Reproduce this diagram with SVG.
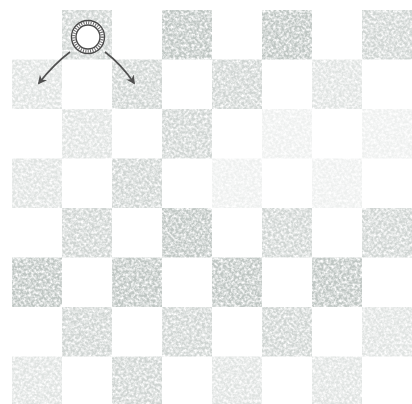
<svg xmlns="http://www.w3.org/2000/svg" width="412" height="404" viewBox="0 0 412 404">
<style>
.sq{fill:#9aa3a0}
.d{fill-opacity:0.56}
.m{fill-opacity:0.42}
.l{fill-opacity:0.28}
.f{fill-opacity:0.15}
.ring{fill:none;stroke:#4a4a4a;stroke-width:1.4}
.hatch{fill:none;stroke:#6a6a6a;stroke-width:3;stroke-dasharray:1 1.4}
.arrow{fill:none;stroke:#505050;stroke-width:1.6}
</style>
<defs>
<filter id="grain" x="0" y="0" width="1" height="1" color-interpolation-filters="sRGB">
<feTurbulence type="fractalNoise" baseFrequency="0.38" numOctaves="2" seed="7" result="n"/>
<feColorMatrix in="n" type="matrix" values="0 0 0 0 0.55  0 0 0 0 0.6  0 0 0 0 0.58  2.2 0 0 0 -0.45" result="spk"/>
<feComposite in="spk" in2="SourceGraphic" operator="in"/>
</filter>
<marker id="ah" viewBox="0 0 10 10" refX="8" refY="5" markerWidth="9" markerHeight="9" orient="auto" markerUnits="userSpaceOnUse">
<path d="M0,0 L10,5 L0,10 L3,5 z" fill="#505050"/>
</marker>
</defs>
<rect width="412" height="404" fill="#ffffff"/>
<g id="board" filter="url(#grain)">
<rect class="sq m" x="62" y="10" width="50" height="49.5"/>
<rect class="sq d" x="162" y="10" width="50" height="49.5"/>
<rect class="sq d" x="262" y="10" width="50" height="49.5"/>
<rect class="sq m" x="362" y="10" width="50" height="49.5"/>
<rect class="sq l" x="12" y="59.5" width="50" height="49.5"/>
<rect class="sq m" x="112" y="59.5" width="50" height="49.5"/>
<rect class="sq m" x="212" y="59.5" width="50" height="49.5"/>
<rect class="sq l" x="312" y="59.5" width="50" height="49.5"/>
<rect class="sq l" x="62" y="109" width="50" height="49.5"/>
<rect class="sq m" x="162" y="109" width="50" height="49.5"/>
<rect class="sq f" x="262" y="109" width="50" height="49.5"/>
<rect class="sq f" x="362" y="109" width="50" height="49.5"/>
<rect class="sq l" x="12" y="158.5" width="50" height="49.5"/>
<rect class="sq m" x="112" y="158.5" width="50" height="49.5"/>
<rect class="sq f" x="212" y="158.5" width="50" height="49.5"/>
<rect class="sq f" x="312" y="158.5" width="50" height="49.5"/>
<rect class="sq m" x="62" y="208" width="50" height="49.5"/>
<rect class="sq d" x="162" y="208" width="50" height="49.5"/>
<rect class="sq m" x="262" y="208" width="50" height="49.5"/>
<rect class="sq m" x="362" y="208" width="50" height="49.5"/>
<rect class="sq d" x="12" y="257.5" width="50" height="49.5"/>
<rect class="sq d" x="112" y="257.5" width="50" height="49.5"/>
<rect class="sq d" x="212" y="257.5" width="50" height="49.5"/>
<rect class="sq d" x="312" y="257.5" width="50" height="49.5"/>
<rect class="sq m" x="62" y="307" width="50" height="49.5"/>
<rect class="sq m" x="162" y="307" width="50" height="49.5"/>
<rect class="sq m" x="262" y="307" width="50" height="49.5"/>
<rect class="sq l" x="362" y="307" width="50" height="49.5"/>
<rect class="sq l" x="12" y="356.5" width="50" height="47.5"/>
<rect class="sq m" x="112" y="356.5" width="50" height="47.5"/>
<rect class="sq l" x="212" y="356.5" width="50" height="47.5"/>
<rect class="sq l" x="312" y="356.5" width="50" height="47.5"/>
</g>
<g id="connectors">
<path class="arrow" d="M70,52 Q54,64 39,83" marker-end="url(#ah)"/>
<path class="arrow" d="M105,52 Q121,64 134,83" marker-end="url(#ah)"/>
</g>
<g id="piece">
<circle cx="88" cy="37" r="16.5" fill="#ffffff"/>
<circle class="hatch" cx="88" cy="37" r="14.3"/>
<circle class="ring" cx="88" cy="37" r="16.5"/>
<circle class="ring" cx="88" cy="37" r="12"/>
</g>
</svg>
